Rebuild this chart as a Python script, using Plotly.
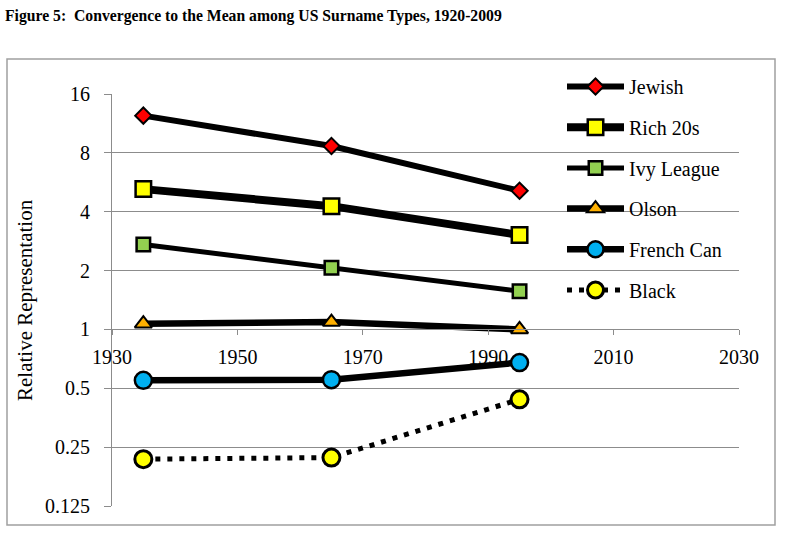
import plotly.graph_objects as go
import math

# ---- data ----
years = [1935, 1965, 1995]
series_names = ["Jewish", "Rich 20s", "Ivy League", "Olson", "French Can", "Black"]
jewish = [12.4, 8.67, 5.12]
rich20s = [5.22, 4.27, 3.04]
ivy_league = [2.72, 2.07, 1.57]
olson = [1.07, 1.09, 1.0]
french_can = [0.549, 0.553, 0.677]
black = [0.217, 0.221, 0.439]
y_tickvals = [0.125, 0.25, 0.5, 1, 2, 4, 8, 16]
y_ticktext = ["0.125", "0.25", "0.5", "1", "2", "4", "8", "16"]
x_tickvals = [1930, 1950, 1970, 1990, 2010, 2030]

# ---- layout geometry (pixels) ----
FW, FH = 786, 540
L, R, T, B = 112, 739, 94, 506
W, H = R - L, B - T


def px(x):
    return (x - L) / W


def py(y):
    return (B - y) / H


FONT = "Liberation Serif, Times New Roman, serif"
GRID = "#8c8c8c"

styles = [
    dict(values=jewish, color="#FF0000", symbol="diamond", size=12.5, lw=2, width=6, dash="solid"),
    dict(values=rich20s, color="#FFFF00", symbol="square", size=15.5, lw=2.5, width=8, dash="solid"),
    dict(values=ivy_league, color="#92D050", symbol="square", size=13.5, lw=2.5, width=5, dash="solid"),
    dict(values=olson, color="#FFB000", symbol="triangle-up", size=15, lw=2, width=6.5, dash="solid"),
    dict(values=french_can, color="#00B0F0", symbol="circle", size=17, lw=2.5, width=6.5, dash="solid"),
    dict(values=black, color="#FFFF00", symbol="circle", size=17, lw=3, width=5, dash="5px,7px"),
]

fig = go.Figure()
for i, (name, st) in enumerate(zip(series_names, styles)):
    fig.add_trace(go.Scatter(
        x=years, y=st["values"], name=name, mode="lines+markers",
        legendgroup=name,
        line=dict(color="black", width=st["width"], dash=st["dash"]),
        marker=dict(symbol=st["symbol"], size=st["size"], color=st["color"],
                    line=dict(color="black", width=st["lw"])),
    ))

fig.update_layout(
    width=FW, height=FH,
    margin=dict(l=L, r=FW - R, t=T, b=FH - B),
    paper_bgcolor="white", plot_bgcolor="white",
    font=dict(family=FONT, size=20, color="black"),
    title=dict(
        text="<b>Figure 5:  Convergence to the Mean among US Surname Types, 1920-2009</b>",
        xref="container", yref="container", x=5 / FW, xanchor="left",
        y=1 - 16 / FH, yanchor="middle",
        font=dict(family=FONT, size=15.7, color="black"),
    ),
    showlegend=True,
    legend=dict(
        x=px(562), y=py(67), xanchor="left", yanchor="top",
        bgcolor="rgba(0,0,0,0)", borderwidth=0,
        font=dict(family=FONT, size=20, color="black"),
        traceorder="grouped", tracegroupgap=11.7, itemwidth=57,
    ),
    xaxis=dict(
        range=[1930, 2030], tickvals=x_tickvals,
        showgrid=False, zeroline=False,
        showline=True, linecolor=GRID, linewidth=1,
        ticks="outside", ticklen=5, tickcolor=GRID,
        anchor="free", position=3 / 7,
        ticklabelstandoff=5,
        tickfont=dict(family=FONT, size=20, color="black"),
    ),
    yaxis=dict(
        type="log", range=[math.log10(0.125), math.log10(16)],
        tickvals=y_tickvals, ticktext=y_ticktext,
        showgrid=True, gridcolor=GRID, gridwidth=1,
        showline=True, linecolor=GRID, linewidth=1,
        ticks="outside", ticklen=7, tickcolor=GRID,
        ticklabelstandoff=10,
        zeroline=False,
        tickfont=dict(family=FONT, size=20, color="black"),
    ),
    annotations=[dict(
        text="Relative Representation", textangle=-90,
        xref="paper", yref="paper", x=px(25), y=py(300),
        xanchor="center", yanchor="middle", showarrow=False,
        font=dict(family=FONT, size=21, color="black"),
    )],
    shapes=[dict(
        type="rect", xref="paper", yref="paper",
        x0=px(7), x1=px(775), y0=py(525), y1=py(59),
        line=dict(color="#a0a0a0", width=1.5), fillcolor="rgba(0,0,0,0)",
        layer="below",
    )],
)

fig.write_html("out.html")
